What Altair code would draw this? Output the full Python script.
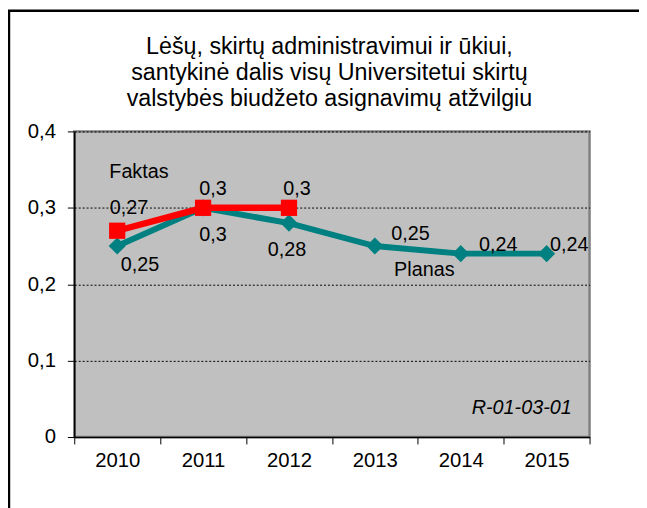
import altair as alt
import pandas as pd

# ---- data ----
years = ["2010", "2011", "2012", "2013", "2014", "2015"]
planas = [0.25, 0.30, 0.28, 0.25, 0.24, 0.24]
faktas_years = ["2010", "2011", "2012"]
faktas = [0.27, 0.30, 0.30]
y_ticks = [0, 0.1, 0.2, 0.3, 0.4]
title_lines = [
    "Lėšų, skirtų administravimui ir ūkiui,",
    "santykinė dalis visų Universitetui skirtų",
    "valstybės biudžeto asignavimų atžvilgiu",
]
code_note = "R-01-03-01"

# ---- styling ----
FONT = "Liberation Sans"
FS_AX = 20.5
FS = 20
FS_TITLE = 23.5
TEAL = "#008080"
RED = "#FF0000"

def fmt(v):
    return f"{v:g}".replace(".", ",")

plan_df = pd.DataFrame({"year": years, "value": planas, "series": "Planas"})
plan_df["label"] = [fmt(v) for v in planas]
fakt_df = pd.DataFrame({"year": faktas_years, "value": faktas, "series": "Faktas"})
fakt_df["label"] = [fmt(v) for v in faktas]

x_enc = alt.X(
    "year:N",
    sort=years,
    scale=alt.Scale(type="band", paddingInner=0, paddingOuter=0),
    bandPosition=0.5,
    title=None,
    axis=alt.Axis(
        tickBand="extent", tickSize=7, tickColor="black", domainColor="black",
        domainWidth=1.5, labelPadding=7, labelFont=FONT, labelFontSize=FS_AX,
        labelColor="black", labelAngle=0, grid=False,
    ),
)
y_enc = alt.Y(
    "value:Q",
    scale=alt.Scale(domain=[0, 0.4], nice=False, zero=True),
    title=None,
    axis=alt.Axis(
        values=y_ticks, tickSize=7, tickColor="black", domainColor="black",
        domainWidth=1.5, labelPadding=12, labelFont=FONT, labelFontSize=FS_AX,
        labelColor="black",
        labelExpr="replace(format(datum.value, '.1~f'), '.', ',')",
        grid=True, gridColor="black", gridDash=[2, 2], gridWidth=1,
    ),
)

# outer chart frame (decoration)
blank = alt.Data(values=[{}])
frame_left = alt.Chart(blank).mark_rule(color="black", strokeWidth=2.5).encode(
    x=alt.value(-66), y=alt.value(-122), y2=alt.value(400))
frame_top = alt.Chart(blank).mark_rule(color="black", strokeWidth=2.5).encode(
    x=alt.value(-67), x2=alt.value(640), y=alt.value(-122))

title = alt.Chart(blank).mark_text(
    fontSize=FS_TITLE, font=FONT, color="black", align="center",
    baseline="middle", lineHeight=26,
).encode(x=alt.value(258), y=alt.value(-85), text=alt.value(title_lines))

plan_line = alt.Chart(plan_df).mark_line(color=TEAL, strokeWidth=6).encode(x=x_enc, y=y_enc)
plan_pts = alt.Chart(plan_df).mark_point(
    shape="diamond", filled=True, size=300, color=TEAL, opacity=1).encode(x=x_enc, y=y_enc)
fakt_line = alt.Chart(fakt_df).mark_line(color=RED, strokeWidth=6.5).encode(x=x_enc, y=y_enc)
fakt_pts = alt.Chart(fakt_df).mark_point(
    shape="square", filled=True, size=270, color=RED, opacity=1).encode(x=x_enc, y=y_enc)

plan_offsets = {"2010": (23, 19), "2011": (10, 28), "2012": (-2, 27),
                "2013": (36, -12), "2014": (38, -9), "2015": (23, -9)}
fakt_offsets = {"2010": (12, -23), "2011": (10, -19), "2012": (8, -19)}

def label_layers(df, offsets, field="label"):
    out = []
    for yr, (dx, dy) in offsets.items():
        out.append(
            alt.Chart(df).transform_filter(alt.datum.year == yr).mark_text(
                dx=dx, dy=dy, fontSize=FS, font=FONT, color="black",
                align="center", baseline="middle",
            ).encode(x=x_enc, y=y_enc, text=f"{field}:N")
        )
    return out

texts = label_layers(plan_df, plan_offsets) + label_layers(fakt_df, fakt_offsets)
texts += label_layers(fakt_df, {"2010": (22, -59)}, field="series")
texts += label_layers(plan_df, {"2013": (50, 24)}, field="series")

note = alt.Chart(alt.Data(values=[{"t": code_note}])).mark_text(
    align="right", baseline="middle", fontStyle="italic", fontSize=FS,
    font=FONT, color="black",
).encode(x=alt.value(503), y=alt.value(280), text="t:N")

chart = alt.layer(
    frame_left, frame_top, title, plan_line, plan_pts, fakt_line, fakt_pts,
    *texts, note
).properties(
    width=521,
    height=309,
    background="white",
    autosize=alt.AutoSizeParams(type="none"),
    padding={"left": 67, "top": 122, "right": 50, "bottom": 70},
).configure_view(
    fill="#C0C0C0", stroke="#808080", strokeWidth=2.5
)

chart.save("out.html", embed_options={"renderer": "svg", "actions": False})
